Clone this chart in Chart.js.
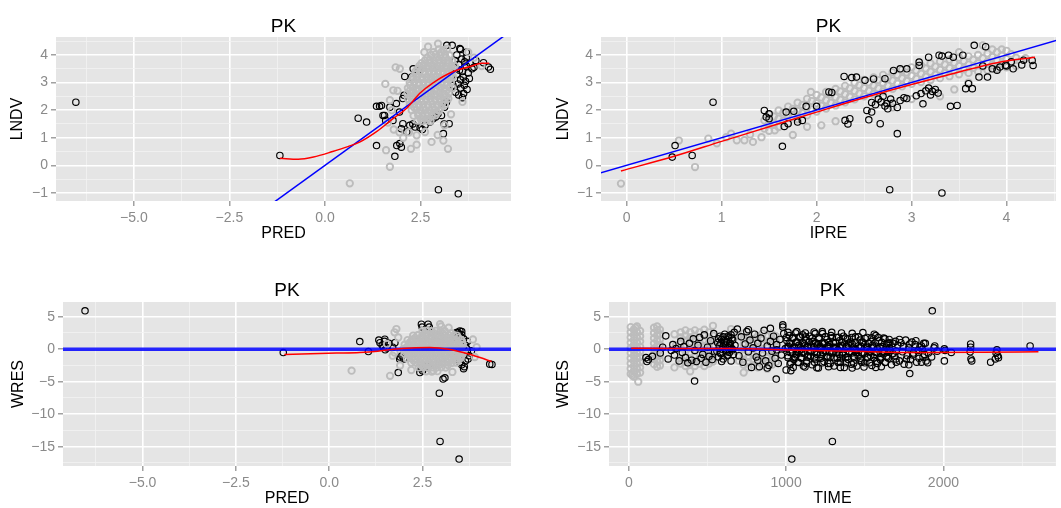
<!DOCTYPE html>
<html>
<head>
<meta charset="utf-8">
<script src="https://cdn.jsdelivr.net/npm/chart.js@4.4.1/dist/chart.umd.min.js"></script>
<style>
html,body{margin:0;padding:0;background:#ffffff;width:1061px;height:508px;overflow:hidden}
.p{position:absolute}
canvas{display:block;filter:blur(0.5px)}
</style>
</head>
<body>
<div class="p" style="left:0;top:0"><canvas id="c1" width="530" height="250"></canvas></div>
<div class="p" style="left:530px;top:0"><canvas id="c2" width="531" height="250"></canvas></div>
<div class="p" style="left:0;top:260px"><canvas id="c3" width="530" height="248"></canvas></div>
<div class="p" style="left:530px;top:260px"><canvas id="c4" width="531" height="248"></canvas></div>
<script>
// ---------------- DATA ----------------
const panelTitle = 'PK';

// Panel 1: PRED vs LNDV
const p1Black = [[-6.52,2.29],[-1.18,0.36],[0.87,1.71],[1.09,1.57],[1.35,0.72],[1.88,0.72],[1.83,0.33],[2.97,-0.88],[3.49,-1.03],[3.1,1.15],[3.12,1.5],[4.28,3.56],[4.33,3.48],[3.19,4.35],[4.15,3.72],
[1.48,2.17],[1.7,2.11],[1.56,1.81],[1.59,1.63],[1.78,1.63],[1.87,2.24],[2.04,2.42],[2.07,2.54],[1.95,1.93],[2.27,3.2],[2.44,3.44],[1.35,2.14],[1.43,2.14],[1.52,1.81],[2.09,3.22],[2.31,3.5],
[2.04,1.51],[2.22,1.45],[2.36,1.39],[2.49,1.36],[2.62,1.45],[2.75,1.57],[2.83,1.69],[2.96,1.87],[2.0,1.33],[2.14,1.21],[1.96,0.79],[2.0,0.66],[3.25,1.51],[3.05,1.81],[3.18,2.29],[3.13,2.11],[2.55,1.3],[2.3,1.5],[2.9,1.75],
[3.38,3.55],[3.45,3.3],[3.5,3.65],[3.55,3.1],[3.6,3.4],[3.65,2.9],[3.7,3.6],[3.55,2.8],[3.48,2.95],[3.62,3.2],[3.75,3.35],[3.68,3.05],[3.4,3.8],[3.58,3.85],[3.72,2.75],[3.5,2.55],[3.8,3.7],[3.85,3.5],[3.63,2.6],[3.42,2.65],[3.52,3.45],[3.66,3.75],[3.78,3.15],[3.3,3.2],[3.35,2.9],[3.9,3.55],[3.6,2.45],[3.7,3.9],[3.45,4.0],[3.55,4.2],[3.33,4.35],[3.95,3.8],[3.7,4.1],[3.53,4.23]];
const p1Grey = [[0.65,-0.65],[1.7,-0.05],[1.6,0.55],[1.85,3.55],[2.96,4.41],[3.22,0.6],[2.25,0.6],[2.05,1.0],[2.79,0.85],[1.58,2.95],[1.7,2.36],[1.79,2.72],[2.4,1.09],[2.95,1.1],[1.95,1.2],[3.3,1.85],[3.6,2.3],[3.9,3.9],[4.1,3.6],[3.75,4.1],[1.9,2.7],[1.8,1.3],[2.6,4.1],[3.1,0.9],[2.2,1.2],[2.62,1.21],[1.96,3.5],[2.4,0.75],[3.13,1.45],[1.75,2.0],[1.65,1.55],[2.7,4.3],
[2.98,4.2],[3.1,4.18],[3.2,4.22],
[2.78,4.0],[2.9,4.03],[3.02,3.98],[3.14,4.02],[3.26,3.99],
[2.62,3.8],[2.74,3.83],[2.86,3.78],[2.98,3.82],[3.1,3.79],[3.22,3.81],[3.33,3.78],
[2.47,3.6],[2.59,3.63],[2.71,3.58],[2.83,3.61],[2.95,3.59],[3.07,3.62],[3.19,3.58],[3.31,3.61],[3.4,3.6],
[2.37,3.4],[2.49,3.42],[2.61,3.38],[2.73,3.41],[2.85,3.39],[2.97,3.42],[3.09,3.38],[3.21,3.41],[3.33,3.4],
[2.31,3.2],[2.43,3.22],[2.55,3.18],[2.67,3.21],[2.79,3.19],[2.91,3.22],[3.03,3.18],[3.15,3.21],[3.27,3.19],[3.35,3.22],
[2.22,3.0],[2.34,3.02],[2.46,2.98],[2.58,3.01],[2.7,2.99],[2.82,3.02],[2.94,2.98],[3.06,3.01],[3.18,2.99],[3.3,3.02],
[2.17,2.8],[2.29,2.82],[2.41,2.78],[2.53,2.81],[2.65,2.79],[2.77,2.82],[2.89,2.78],[3.01,2.81],[3.13,2.79],[3.25,2.82],[3.34,2.8],
[2.16,2.6],[2.28,2.62],[2.4,2.58],[2.52,2.61],[2.64,2.59],[2.76,2.62],[2.88,2.58],[3.0,2.61],[3.12,2.59],[3.24,2.62],
[2.17,2.4],[2.29,2.42],[2.41,2.38],[2.53,2.41],[2.65,2.39],[2.77,2.42],[2.89,2.38],[3.01,2.41],[3.13,2.39],[3.23,2.42],
[2.22,2.2],[2.34,2.22],[2.46,2.18],[2.58,2.21],[2.7,2.19],[2.82,2.22],[2.94,2.18],[3.06,2.21],[3.14,2.2],
[2.27,2.0],[2.39,2.02],[2.51,1.98],[2.63,2.01],[2.75,1.99],[2.87,2.02],[2.99,1.98],
[2.32,1.8],[2.44,1.82],[2.56,1.78],[2.68,1.81],[2.8,1.79],[2.9,1.82],
[2.42,1.62],[2.54,1.6],[2.66,1.63],[2.76,1.6],
[2.84,4.1],[3.05,4.1],[2.68,3.9],[2.92,3.9],[3.16,3.9],[2.53,3.7],[2.77,3.7],[3.01,3.7],[3.25,3.7],[2.43,3.5],[2.67,3.5],[2.91,3.5],[3.15,3.5],[3.37,3.5],[2.37,3.3],[2.61,3.3],[2.85,3.3],[3.09,3.3],[3.31,3.3],[2.28,3.1],[2.52,3.1],[2.76,3.1],[3.0,3.1],[3.24,3.1],[2.23,2.9],[2.47,2.9],[2.71,2.9],[2.95,2.9],[3.19,2.9],[2.22,2.7],[2.46,2.7],[2.7,2.7],[2.94,2.7],[3.18,2.7],[2.22,2.5],[2.46,2.5],[2.7,2.5],[2.94,2.5],[3.18,2.5],[2.28,2.3],[2.52,2.3],[2.76,2.3],[3.0,2.3],[2.33,2.1],[2.57,2.1],[2.81,2.1],[3.05,2.1],[2.45,1.9],[2.69,1.9],[2.93,1.9],[2.5,1.7],[2.72,1.7]];
const p1Loess = [[-1.18,0.26],[-0.7,0.22],[-0.3,0.3],[0.2,0.5],[0.6,0.68],[0.92,0.85],[1.35,1.22],[1.79,1.7],[2.14,2.07],[2.49,2.62],[2.84,3.0],[3.36,3.4],[3.8,3.58],[4.1,3.7],[4.3,3.7]];
const p1Identity = [[-1.5,-1.5],[4.9,4.9]];
const p1XTicks = [-5,-2.5,0,2.5], p1XLabels = ['\u22125.0','\u22122.5','0.0','2.5'], p1XMinor = [-6.25,-3.75,-1.25,1.25,3.75];
const p1YTicks = [-1,0,1,2,3,4], p1YLabels = ['\u22121','0','1','2','3','4'], p1YMinor = [-0.5,0.5,1.5,2.5,3.5,4.5];

// Panel 2: IPRE vs LNDV
const p2Black = [[0.91,2.29],[0.51,0.72],[0.48,0.3],[0.69,0.36],[1.64,0.69],[1.45,1.99],[1.47,1.75],[1.68,1.93],[1.76,1.96],[1.66,1.41],[1.8,1.57],[1.89,2.14],[2.0,2.14],[2.13,2.66],[2.29,3.22],[2.37,3.18],[2.3,1.63],[2.33,1.5],[2.53,1.99],[2.55,1.65],[2.67,1.51],[2.85,1.15],[2.77,-0.88],[3.32,-1.0],[3.12,2.23],[3.41,2.14],[3.57,2.78],[3.6,2.96],[2.51,3.08],[2.6,3.13],[2.81,3.44],[2.88,3.5],[3.08,3.74],[3.18,3.92],[3.32,3.96],[3.44,3.92],[3.66,4.35],[3.78,4.3],[3.71,3.2],[3.85,3.5],[3.99,3.63],[4.07,3.5],[4.16,3.64],[4.18,3.81],
[2.62,2.2],[2.68,2.3],[2.72,2.15],[2.78,2.4],[2.8,2.25],[2.85,2.1],[2.88,2.35],[2.75,2.05],[2.65,2.4],[2.92,2.45],[2.7,2.5],[2.58,2.28],
[3.1,2.6],[3.15,2.7],[3.2,2.55],[3.25,2.75],[3.18,2.8],[3.28,2.62],[3.05,2.52],[3.22,2.68],
[2.16,2.64],[2.35,1.69],[2.58,1.93],[2.74,2.24],[2.95,2.42],[3.29,3.99],[3.39,3.99],[3.54,3.99],[3.48,2.17],[3.64,2.78],[3.8,3.2],[3.93,3.56],[4.0,3.6],[4.28,3.62],[4.27,3.8],[2.42,3.2],[2.72,3.14],[2.95,3.5],[3.08,3.62],[1.85,1.63],[1.7,1.51],[1.5,1.87],[1.5,1.69],[3.9,3.45],[4.05,3.75],[3.75,3.6]];
const p2Grey = [[-0.06,-0.66],[0.72,-0.06],[0.86,0.97],[1.16,0.91],[1.24,0.91],[1.33,0.85],[1.42,1.02],[1.56,1.27],[1.94,2.66],[0.55,0.9],[1.05,1.02],[1.3,1.12],[1.9,1.4],[2.05,1.45],[3.3,2.5],[3.45,2.75],[3.95,4.2],[4.2,3.88],[3.75,4.35],[2.2,1.6],[2.8,2.1],[3.0,2.4],[1.75,1.1],[3.6,3.0],[0.95,0.8],[1.1,1.15],[3.5,4.1],[3.85,4.2],
[1.5,1.85],[1.6,1.99],[1.7,2.13],[1.8,2.27],[1.9,2.41],[2.0,2.55],[2.1,2.66],[2.2,2.77],[2.3,2.88],[2.4,2.99],[2.5,3.1],[2.6,3.19],[2.7,3.28],[2.8,3.37],[2.9,3.46],[3.0,3.55],[3.1,3.62],[3.2,3.69],[3.3,3.76],[3.4,3.83],[3.5,3.9],[3.6,3.95],[3.7,4.0],[3.8,4.05],[3.9,4.1],[4.0,4.15],
[1.5,1.55],[1.6,1.69],[1.7,1.83],[1.8,1.97],[1.9,2.11],[2.0,2.25],[2.1,2.36],[2.2,2.47],[2.3,2.58],[2.4,2.69],[2.5,2.8],[2.6,2.89],[2.7,2.98],[2.8,3.07],[2.9,3.16],[3.0,3.25],[3.1,3.32],[3.2,3.39],[3.3,3.46],[3.4,3.53],[3.5,3.6],[3.6,3.65],[3.7,3.7],[3.8,3.75],[3.9,3.8],[4.0,3.85],[4.1,3.9],
[1.5,1.25],[1.6,1.39],[1.7,1.53],[1.8,1.67],[1.9,1.81],[2.0,1.95],[2.1,2.06],[2.2,2.17],[2.3,2.28],[2.4,2.39],[2.5,2.5],[2.6,2.59],[2.7,2.68],[2.8,2.77],[2.9,2.86],[3.0,2.95],[3.1,3.02],[3.2,3.09],[3.3,3.16],[3.4,3.23],[3.5,3.3],[3.6,3.35],[3.7,3.4],[3.8,3.45],[3.9,3.5],[4.0,3.55],[4.1,3.6],
[1.45,1.63],[1.55,1.77],[1.65,1.91],[1.75,2.05],[1.85,2.19],[1.95,2.33],[2.05,2.46],[2.15,2.57],[2.25,2.68],[2.35,2.79],[2.45,2.9],[2.55,3.0],[2.65,3.09],[2.75,3.18],[2.85,3.27],[2.95,3.36],[3.05,3.44],[3.15,3.51],[3.25,3.58],[3.35,3.65],[3.45,3.72],[3.55,3.78],[3.65,3.83],[3.75,3.88],[3.85,3.93],[3.95,3.98],[4.05,4.03],
[1.45,1.33],[1.55,1.47],[1.65,1.61],[1.75,1.75],[1.85,1.89],[1.95,2.03],[2.05,2.16],[2.15,2.27],[2.25,2.38],[2.35,2.49],[2.45,2.6],[2.55,2.7],[2.65,2.79],[2.75,2.88],[2.85,2.97],[2.95,3.06],[3.05,3.14],[3.15,3.21],[3.25,3.28],[3.35,3.35],[3.45,3.42],[3.55,3.48],[3.65,3.53],[3.75,3.58],[3.85,3.63],[3.95,3.68],[4.05,3.73]];
const p2Loess = [[-0.06,-0.2],[0.5,0.33],[1.0,0.87],[1.5,1.4],[2.0,1.93],[2.5,2.45],[3.0,2.93],[3.5,3.38],[3.9,3.72],[4.3,3.92]];
const p2Identity = [[-0.5,-0.5],[4.8,4.8]];
const p2XTicks = [0,1,2,3,4], p2XLabels = ['0','1','2','3','4'], p2XMinor = [0.5,1.5,2.5,3.5,4.5];
const p2YTicks = p1YTicks, p2YLabels = p1YLabels, p2YMinor = p1YMinor;

// Panel 3: PRED vs WRES
const p3Black = [[-6.54,5.9],[-1.23,-0.52],[0.82,1.17],[1.05,-0.37],[1.33,1.4],[1.36,1.0],[1.42,0.6],[1.48,1.2],[1.55,0.2],[1.5,-0.1],[1.6,0.9],[1.45,0.3],[1.49,1.54],[1.76,1.0],[1.7,0.3],[1.85,-3.6],[2.43,-3.6],[2.47,-3.0],[3.05,-4.6],[3.1,-4.4],[2.95,-6.77],[2.97,-14.2],[3.48,-16.9],[4.3,-2.3],[4.36,-2.35],[3.41,2.55],[3.48,2.3],[2.47,3.85],[2.49,3.4],[2.65,3.85],[2.68,3.4],[2.5,-3.3],[2.61,-2.57],[2.64,-2.8],[1.89,-1.54],[1.9,-1.2],[2.0,-1.5],[1.95,-1.0],
[3.45,2.6],[3.55,2.2],[3.6,1.6],[3.5,1.0],[3.65,0.6],[3.55,0.2],[3.7,-0.3],[3.6,-0.8],[3.5,-1.3],[3.65,-1.8],[3.55,-2.4],[3.6,-3.0],[3.7,1.2],[3.75,-1.0],[3.45,-0.5],[3.5,-2.0],[3.4,1.8],[3.62,-2.7],[3.5,2.8],[3.55,2.7],[3.81,-0.26],[3.68,0.1],[3.72,-1.5]];
const p3Grey = [[0.6,-3.3],[1.63,-4.1],[1.8,3.1],[1.75,2.6],[2.97,3.85],[2.79,-3.3],[1.55,0.8],[1.7,-1.0],[3.9,-1.2],[3.85,1.5],[2.2,-3.2],[3.3,-3.5],[1.9,-2.5],[3.95,0.3],[1.85,1.8],[3.2,3.3],[1.75,-0.5],[3.0,3.5],
[2.5,2.8],[2.62,2.85],[2.74,2.78],[2.86,2.83],[2.98,2.8],[3.1,2.76],
[2.25,2.1],[2.37,2.15],[2.49,2.08],[2.61,2.12],[2.73,2.1],[2.85,2.14],[2.97,2.07],[3.09,2.11],[3.21,2.13],[3.33,2.08],[3.42,2.1],
[2.1,1.4],[2.22,1.45],[2.34,1.38],[2.46,1.42],[2.58,1.4],[2.7,1.44],[2.82,1.37],[2.94,1.41],[3.06,1.43],[3.18,1.38],[3.3,1.42],[3.42,1.4],[3.54,1.44],
[2.02,0.7],[2.14,0.74],[2.26,0.67],[2.38,0.72],[2.5,0.7],[2.62,0.73],[2.74,0.68],[2.86,0.71],[2.98,0.73],[3.1,0.68],[3.22,0.72],[3.34,0.7],[3.46,0.74],[3.58,0.69],
[1.98,0.0],[2.1,0.04],[2.22,-0.03],[2.34,0.02],[2.46,0.0],[2.58,0.03],[2.7,-0.02],[2.82,0.01],[2.94,0.03],[3.06,-0.02],[3.18,0.02],[3.3,0.0],[3.42,0.04],[3.54,-0.01],[3.64,0.02],
[2.02,-0.7],[2.14,-0.66],[2.26,-0.73],[2.38,-0.68],[2.5,-0.7],[2.62,-0.67],[2.74,-0.72],[2.86,-0.69],[2.98,-0.67],[3.1,-0.72],[3.22,-0.68],[3.34,-0.7],[3.46,-0.66],[3.58,-0.71],
[2.08,-1.4],[2.2,-1.36],[2.32,-1.43],[2.44,-1.38],[2.56,-1.4],[2.68,-1.37],[2.8,-1.42],[2.92,-1.39],[3.04,-1.37],[3.16,-1.42],[3.28,-1.38],[3.4,-1.4],[3.52,-1.36],
[2.2,-2.1],[2.32,-2.06],[2.44,-2.13],[2.56,-2.08],[2.68,-2.1],[2.8,-2.07],[2.92,-2.12],[3.04,-2.09],[3.16,-2.07],[3.28,-2.12],[3.4,-2.08],
[2.4,-2.8],[2.52,-2.76],[2.64,-2.83],[2.76,-2.78],[2.88,-2.8],[3.0,-2.77],[3.12,-2.82],
[2.6,-3.4],[2.75,-3.45],[2.9,-3.38],
[2.56,2.45],[2.8,2.45],[3.04,2.45],[3.27,2.45],[2.3,1.75],[2.52,1.75],[2.76,1.75],[3.0,1.75],[3.24,1.75],[3.46,1.75],[2.16,1.05],[2.4,1.05],[2.64,1.05],[2.88,1.05],[3.12,1.05],[3.36,1.05],[3.56,1.05],[2.08,0.35],[2.32,0.35],[2.56,0.35],[2.8,0.35],[3.04,0.35],[3.28,0.35],[3.52,0.35],[2.08,-0.35],[2.32,-0.35],[2.56,-0.35],[2.8,-0.35],[3.04,-0.35],[3.28,-0.35],[3.52,-0.35],[2.14,-1.05],[2.38,-1.05],[2.62,-1.05],[2.86,-1.05],[3.1,-1.05],[3.34,-1.05],[3.54,-1.05],[2.26,-1.75],[2.5,-1.75],[2.74,-1.75],[2.98,-1.75],[3.22,-1.75],[3.44,-1.75],[2.46,-2.45],[2.7,-2.45],[2.94,-2.45],[3.18,-2.45]];
const p3Loess = [[-1.2,-0.8],[-0.5,-0.7],[0.2,-0.6],[0.82,-0.5],[1.3,-0.3],[1.72,0.0],[2.2,0.2],[2.7,0.25],[3.2,0.0],[3.59,-0.5],[4.04,-1.28],[4.35,-1.9]];
const p3Zero = [[-8,0],[5,0]];
const p3XTicks = p1XTicks, p3XLabels = p1XLabels, p3XMinor = p1XMinor;
const p3YTicks = [-15,-10,-5,0,5], p3YLabels = ['\u221215','\u221210','\u22125','0','5'], p3YMinor = [-17.5,-12.5,-7.5,-2.5,2.5];

// Panel 4: TIME vs WRES
const p4Black = [[1929,5.9],[1503,-6.8],[1294,-14.2],[1036,-16.9],[937,-4.6],[418,-4.9],[1786,-3.75],[979,3.75],[979,3.4],[1030,-3.3],[1000,-3.2],[2551,0.5],
[2173,0.8],[2173,0.3],[2170,-0.4],[2175,-1.5],[2340,-0.1],[2335,-0.6],[2345,-1.0],[2330,-1.5],[2300,-2.0],[2006,0.05],[2010,-0.2],[2006,-1.8],[1940,0.2],[1960,-0.3],[2050,-0.5],[1890,-1.8],[1880,-0.8],[1860,0.5],[1900,-2.1],[2180,-1.8],[2350,-1.3],
[109,-1.3],[115,-1.9],[125,-1.6],[150,-1.1],[200,-0.6],[215,0.3],[235,2.05],[250,-1.5],[270,-0.2],[280,0.7],[290,-0.9],[300,0.1],
[320,-1.8],[330,1.2],[340,-0.5],[350,0.4],[360,-1.3],[375,-2.1],[385,0.9],[400,-1.7],[410,1.6],[420,-0.2],[430,-1.9],[440,0.6],[450,1.8],[460,-1.4],[470,-0.8],[480,2.2],[490,-2.0],[500,0.3],[510,-1.1],[520,1.3],[530,-1.6],[540,2.4],[545,-0.4],
[560,-0.3],[565,1.0],[570,-1.2],[575,0.5],[580,2.0],[585,-0.7],[590,1.5],[595,0.0],[600,-1.5],[605,0.8],[610,2.3],[615,-0.2],[620,1.2],[625,-1.0],[630,0.3],[635,1.8],[640,-0.5],[645,0.9],[650,-1.8],[655,0.1],[660,1.4],[665,-0.8],[670,2.6],[675,0.6],[580,-0.5],[600,0.4],[620,-0.4],[640,0.6],[660,-0.1],[590,-1.9],[650,2.2],[610,1.1],[630,-0.9],[570,1.6],[600,1.9],[630,2.0],[655,1.7],[585,0.9],[615,0.6],[645,0.3],
[690,3.1],[700,-1.0],[715,1.9],[725,-2.0],[740,0.8],[750,2.7],[760,-0.4],[770,1.4],[780,-2.8],[790,0.2],[800,2.3],[810,-1.2],[820,0.9],[830,-2.7],[840,1.7],[850,-0.6],[860,2.9],[870,-1.8],[880,0.5],[890,-2.5],[900,1.2],[910,-0.3],[920,2.0],[930,-1.4],[940,0.7],[950,-2.2],[960,1.5],[970,-0.9],[985,2.4],[995,0.1],[880,-2.9],[900,3.2],[760,3.0],[820,-1.7],[940,-0.1],
[1005,1.3],[1010,-1.0],[1015,0.4],[1020,2.1],[1025,-2.3],[1030,0.9],[1040,-0.5],[1045,1.7],[1050,-1.6],[1055,0.2],[1060,2.5],[1065,-0.9],[1070,1.1],[1075,-2.0],[1080,0.6],[1085,-0.2],[1090,1.9],[1095,-1.3],[1100,0.0],[1105,2.2],[1110,-2.6],[1115,0.8],[1120,-0.7],[1125,1.4],[1130,-1.8],[1140,0.3],[1150,2.0],[1155,-1.1],[1160,0.5],[1165,-2.4],[1170,1.2],[1180,-0.4],[1185,2.4],[1190,-1.5],[1200,0.7],[1205,-2.9],[1210,1.6],[1220,-0.8],[1225,0.1],[1230,2.7],[1240,-1.9],[1245,0.9],[1250,-0.3],[1260,1.5],[1265,-2.2],[1270,0.4],[1280,-1.2],[1285,2.1],[1290,-0.6],[1300,1.0],[1305,-2.6],[1310,0.2],[1320,1.8],[1325,-1.4],[1330,-0.1],[1340,1.3],[1345,-2.0],[1350,0.6],[1360,-0.9],[1365,2.0],[1370,-2.8],[1380,0.3],[1390,1.6],[1395,-1.6],[1400,-0.4],[1410,1.1],[1415,-2.3],[1420,0.8],[1430,-1.1],[1440,1.9],[1445,-0.2],[1450,-2.6],[1460,0.5],[1470,1.4],[1475,-1.7],[1480,-0.5],[1490,1.0],[1500,-2.1],[1510,0.2],[1515,1.8],[1520,-1.3],[1530,-0.3],[1540,1.2],[1545,-2.5],[1550,0.6],[1560,-0.8],[1570,2.1],[1575,-1.9],[1580,0.1],[1590,1.3],[1600,-1.2],[1605,-2.7],[1610,0.4],[1620,1.7],[1625,-0.6],[1630,-2.0],[1640,0.8],[1650,-1.4],[1655,1.5],[1660,-0.2],[1670,-2.4],[1680,0.9],[1690,-1.0],[1695,1.2],
[1035,-0.1],[1058,-1.2],[1078,0.3],[1098,-0.6],[1118,0.5],[1138,-1.0],[1158,-0.3],[1178,0.9],[1198,-0.8],[1218,0.4],[1238,-0.2],[1258,-1.1],[1278,0.7],[1298,-0.4],[1318,0.3],[1338,-0.8],[1358,0.5],[1378,-1.3],[1398,0.6],[1418,-0.6],[1438,0.0],[1458,-1.0],[1478,0.4],[1498,-0.7],[1518,-0.1],[1538,-1.0],[1558,0.3],[1578,-0.5],[1598,-1.6],[1618,-0.3],[1638,-1.1],[1658,0.2],[1678,-0.7],[1698,-1.5],
[1012,2.6],[1068,2.7],[1122,2.5],[1178,2.65],[1232,2.4],[1290,2.6],[1352,2.5],[1420,2.45],[1488,2.55],[1560,2.3],
[1002,1.8],[1040,1.75],[1082,1.85],[1124,1.9],[1166,1.7],[1208,1.8],[1250,1.95],[1292,1.75],[1334,1.85],[1376,1.7],[1418,1.8],[1460,1.9],[1502,1.65],[1544,1.75],[1586,1.8],[1628,1.6],
[1020,1.0],[1062,1.05],[1104,0.95],[1146,1.1],[1188,1.0],[1230,0.9],[1272,1.05],[1314,1.0],[1356,1.1],[1398,0.95],[1440,1.0],[1482,1.1],[1524,0.9],[1566,1.0],[1608,1.05],[1650,0.9],
[1008,0.3],[1050,0.35],[1092,0.25],[1134,0.4],[1176,0.3],[1218,0.2],[1260,0.35],[1302,0.3],[1344,0.25],[1386,0.4],[1428,0.3],[1470,0.2],[1512,0.35],[1554,0.3],[1596,0.25],[1638,0.3],
[1025,-0.5],[1067,-0.45],[1109,-0.55],[1151,-0.4],[1193,-0.5],[1235,-0.6],[1277,-0.45],[1319,-0.5],[1361,-0.55],[1403,-0.4],[1445,-0.5],[1487,-0.6],[1529,-0.45],[1571,-0.5],[1613,-0.55],[1655,-0.45],
[1012,-1.3],[1054,-1.25],[1096,-1.35],[1138,-1.2],[1180,-1.3],[1222,-1.4],[1264,-1.25],[1306,-1.3],[1348,-1.35],[1390,-1.2],[1432,-1.3],[1474,-1.4],[1516,-1.25],[1558,-1.3],[1600,-1.35],[1642,-1.25],
[1030,-2.1],[1080,-2.05],[1130,-2.15],[1180,-2.0],[1230,-2.1],[1280,-2.2],[1330,-2.05],[1380,-2.1],[1430,-2.15],[1480,-2.0],[1530,-2.1],[1580,-2.2],[1630,-2.05],
[1045,-2.8],[1120,-2.75],[1195,-2.85],[1270,-2.7],[1345,-2.8],[1420,-2.9],[1495,-2.75],[1570,-2.8],
[1710,0.6],[1720,-1.8],[1730,1.0],[1740,-0.4],[1750,-2.3],[1760,1.4],[1770,-1.0],[1780,0.2],[1790,-1.6],[1800,1.1],[1810,-0.6],[1820,0.7],[1830,-2.0],[1840,-0.2],[1850,0.3],[1870,-1.2],[1875,0.9],
[1660,1.0],[1700,-0.3],[1720,1.5],[1745,0.4],[1765,-1.5],[1785,0.8],[1805,-0.9],[1825,1.3],[1845,-1.4],[1865,0.0],[1885,0.9],[1905,-0.6],[1925,-1.2],[1945,0.5],[1700,-2.0],[1780,-2.4],[1860,-2.0]];
const p4Grey = [[12,3.4],[12,2.6],[12,1.8],[12,1.0],[12,0.2],[12,-0.6],[12,-1.4],[12,-2.2],[12,-3.0],[12,-3.8],
[32,3.0],[32,2.2],[32,1.4],[32,0.6],[32,-0.2],[32,-1.0],[32,-1.8],[32,-2.6],[32,-3.4],[32,-4.2],
[52,3.5],[52,2.6],[52,1.8],[52,1.0],[52,0.2],[52,-0.6],[52,-1.4],[52,-2.2],[52,-3.0],[52,-3.8],
[72,2.8],[72,2.0],[72,1.2],[72,0.4],[72,-0.4],[72,-1.2],[72,-2.0],[72,-2.8],[72,-3.6],
[60,-5.0],[22,-4.0],[42,3.3],
[160,3.3],[160,2.5],[160,1.7],[160,0.9],[160,0.1],[160,-0.7],[160,-1.5],[160,-2.3],
[180,3.5],[180,2.9],[180,2.1],[180,1.3],[180,0.5],[180,-0.3],[180,-1.1],[180,-1.9],[180,-2.7],
[198,3.0],[198,2.3],[198,1.5],[198,0.7],[198,-0.1],[198,-0.9],[198,-1.7],[198,-2.5],
[330,2.6],[330,1.8],[330,1.0],[330,0.2],[330,-0.6],[330,-1.4],[330,-2.2],
[360,2.9],[360,2.1],[360,1.3],[360,0.5],[360,-0.3],[360,-1.1],[360,-1.9],[360,-2.6],
[390,2.6],[390,1.8],[390,1.0],[390,0.2],[390,-0.6],[390,-1.4],[390,-2.2],[390,-3.4],
[420,2.9],[420,2.1],[420,1.3],[420,0.5],[420,-0.3],[420,-1.1],[420,-1.9],[420,-2.6],
[450,2.6],[450,1.8],[450,1.0],[450,0.2],[450,-0.6],[450,-1.4],[450,-2.2],
[480,3.0],[480,2.1],[480,1.3],[480,0.5],[480,-0.3],[480,-1.1],[480,-1.9],[480,-2.6],
[510,2.6],[510,1.8],[510,1.0],[510,0.2],[510,-0.6],[510,-1.4],[510,-2.2],
[535,3.6],[535,2.1],[535,1.3],[535,0.5],[535,-0.3],[535,-1.1],[535,-1.9],
[290,2.3],[290,-2.8],[300,0.6],
[730,2.4],[730,1.6],[730,0.8],[730,0.0],[730,-0.8],[730,-1.6],[730,-2.4],[730,-3.6],
[760,2.0],[760,1.2],[760,0.4],[760,-0.4],[760,-1.2],[760,-2.0],[760,-2.8],
[790,2.4],[790,1.6],[790,0.8],[790,0.0],[790,-0.8],[790,-1.6],[790,-2.4],
[820,2.0],[820,1.2],[820,0.4],[820,-0.4],[820,-1.2],[820,-2.0],[820,-2.8],
[850,2.4],[850,1.6],[850,0.8],[850,0.0],[850,-0.8],[850,-1.6],[850,-2.4],
[880,2.0],[880,1.2],[880,0.4],[880,-0.4],[880,-1.2],[880,-2.0],[880,-3.0],
[910,2.4],[910,1.6],[910,0.8],[910,0.0],[910,-0.8],[910,-1.6],[910,-2.4],
[935,2.0],[935,1.2],[935,0.4],[935,-0.4],[935,-1.2],[935,-2.0],
[650,3.1],[700,2.0],[700,-1.8],[680,-0.3]];
const p4Loess = [[15,0.15],[300,0.12],[653,0.1],[1073,-0.16],[1493,-0.37],[1912,-0.52],[2250,-0.48],[2604,-0.41]];
const p4Zero = [[-200,0],[2800,0]];
const p4XTicks = [0,1000,2000], p4XLabels = ['0','1000','2000'], p4XMinor = [500,1500,2500];
const p4YTicks = p3YTicks, p4YLabels = p3YLabels, p4YMinor = p3YMinor;

// ---------------- RENDERING ----------------
const FONT = '"Liberation Sans", Arial, Helvetica, sans-serif';
const panelBg = {
  id: 'panelBg',
  beforeDraw(chart) {
    const a = chart.chartArea, ctx = chart.ctx;
    ctx.save();
    ctx.fillStyle = '#E5E5E5';
    ctx.fillRect(a.left, a.top, a.right - a.left, a.bottom - a.top);
    ctx.restore();
  }
};
const toXY = arr => arr.map(p => ({x: p[0], y: p[1]}));

function pointsSet(arr, color, width, order) {
  return {type: 'scatter', data: toXY(arr), order: order, showLine: false,
    pointRadius: 3.2, pointHoverRadius: 3.2, pointBorderWidth: width,
    pointBackgroundColor: 'rgba(0,0,0,0)', pointBorderColor: color,
    borderColor: color, backgroundColor: 'rgba(0,0,0,0)'};
}
function lineSet(arr, color, width, order, smooth) {
  return {type: 'line', data: toXY(arr), order: order, borderColor: color, borderWidth: width,
    pointRadius: 0, pointHoverRadius: 0, fill: false, clip: 0,
    tension: smooth ? 0.4 : 0, cubicInterpolationMode: smooth ? 'monotone' : 'default'};
}
function axis(o) {
  const all = o.major.concat(o.minor).sort((a, b) => a - b);
  const isMajor = v => o.major.indexOf(v) >= 0;
  const maj = c => c.tick && isMajor(c.tick.value);
  return {
    type: 'linear', min: o.min, max: o.max,
    afterBuildTicks: s => { s.ticks = all.map(v => ({value: v})); },
    afterFit: s => { if (o.isX) s.height = o.fit; else s.width = o.fit; },
    ticks: {autoSkip: false, maxRotation: 0, minRotation: 0, padding: o.isX ? 4 : 3,
      color: '#8a8a8a', font: {family: FONT, size: 14},
      callback: v => isMajor(v) ? o.labels[o.major.indexOf(v)] : ''},
    grid: {drawOnChartArea: true, drawTicks: true, tickLength: 5, tickWidth: 1.2,
      color: c => maj(c) ? '#FFFFFF' : '#F2F2F2',
      lineWidth: c => maj(c) ? 1.6 : 0.8,
      tickColor: c => maj(c) ? '#8a8a8a' : 'rgba(0,0,0,0)'},
    border: {display: false},
    title: {display: true, text: o.title, color: '#000000', font: {family: FONT, size: 16},
      padding: o.isX ? {top: 0, bottom: o.titlePad} : {top: o.titlePad, bottom: 0}}
  };
}
function panel(id, cfg) {
  new Chart(document.getElementById(id), {
    type: 'scatter',
    data: {datasets: cfg.datasets},
    options: {
      responsive: false, animation: false, devicePixelRatio: 1,
      events: [],
      layout: {padding: {left: 0, right: cfg.padRight, top: 0, bottom: 0}},
      plugins: {
        legend: {display: false}, tooltip: {enabled: false},
        title: {display: true, text: panelTitle, fullSize: false, color: '#000000',
          font: {family: FONT, size: 19, weight: 'normal', lineHeight: 1.0},
          padding: {top: cfg.titleTop, bottom: cfg.titleBottom}}
      },
      scales: {x: cfg.x, y: cfg.y}
    },
    plugins: [panelBg]
  });
}

const BLACK = '#000000', GREY = '#bcbcbc', RED = '#FF0000', BLUE = '#0000FF';
const GREY_W = 1.9, BLACK_W = 1.15;

panel('c1', {
  padRight: 19, titleTop: 17, titleBottom: 1,
  datasets: [lineSet(p1Loess, RED, 1.5, 0, true), lineSet(p1Identity, BLUE, 1.5, 1, false),
             pointsSet(p1Grey, GREY, GREY_W, 2), pointsSet(p1Black, BLACK, BLACK_W, 3)],
  x: axis({isX: true, min: -7.04, max: 4.87, major: p1XTicks, labels: p1XLabels, minor: p1XMinor, fit: 49, title: 'PRED', titlePad: 7}),
  y: axis({isX: false, min: -1.29, max: 4.65, major: p1YTicks, labels: p1YLabels, minor: p1YMinor, fit: 56, title: 'LNDV', titlePad: 8.4})
});
panel('c2', {
  padRight: 0, titleTop: 17, titleBottom: 1,
  datasets: [lineSet(p2Loess, RED, 1.5, 0, true), lineSet(p2Identity, BLUE, 1.5, 1, false),
             pointsSet(p2Black, BLACK, BLACK_W, 2), pointsSet(p2Grey, GREY, GREY_W, 3)],
  x: axis({isX: true, min: -0.27, max: 4.52, major: p2XTicks, labels: p2XLabels, minor: p2XMinor, fit: 49, title: 'IPRE', titlePad: 7}),
  y: axis({isX: false, min: -1.29, max: 4.65, major: p2YTicks, labels: p2YLabels, minor: p2YMinor, fit: 71, title: 'LNDV', titlePad: 23.7})
});
panel('c3', {
  padRight: 19, titleTop: 21, titleBottom: 2,
  datasets: [lineSet(p3Loess, RED, 1.5, 0, true), lineSet(p3Zero, 'rgba(0,0,255,0.85)', 3.5, 1, false),
             pointsSet(p3Grey, GREY, GREY_W, 2), pointsSet(p3Black, BLACK, BLACK_W, 3)],
  x: axis({isX: true, min: -7.13, max: 4.87, major: p3XTicks, labels: p3XLabels, minor: p3XMinor, fit: 42, title: 'PRED', titlePad: 0}),
  y: axis({isX: false, min: -17.97, max: 7.26, major: p3YTicks, labels: p3YLabels, minor: p3YMinor, fit: 63, title: 'WRES', titlePad: 8.7})
});
panel('c4', {
  padRight: 0, titleTop: 21, titleBottom: 2,
  datasets: [lineSet(p4Loess, RED, 1.5, 0, true), lineSet(p4Zero, 'rgba(0,0,255,0.85)', 3.5, 1, false),
             pointsSet(p4Black, BLACK, BLACK_W, 2), pointsSet(p4Grey, GREY, GREY_W, 3)],
  x: axis({isX: true, min: -126, max: 2715, major: p4XTicks, labels: p4XLabels, minor: p4XMinor, fit: 42, title: 'TIME', titlePad: 0}),
  y: axis({isX: false, min: -17.97, max: 7.26, major: p4YTicks, labels: p4YLabels, minor: p4YMinor, fit: 79, title: 'WRES', titlePad: 23.7})
});
</script>
</body>
</html>
